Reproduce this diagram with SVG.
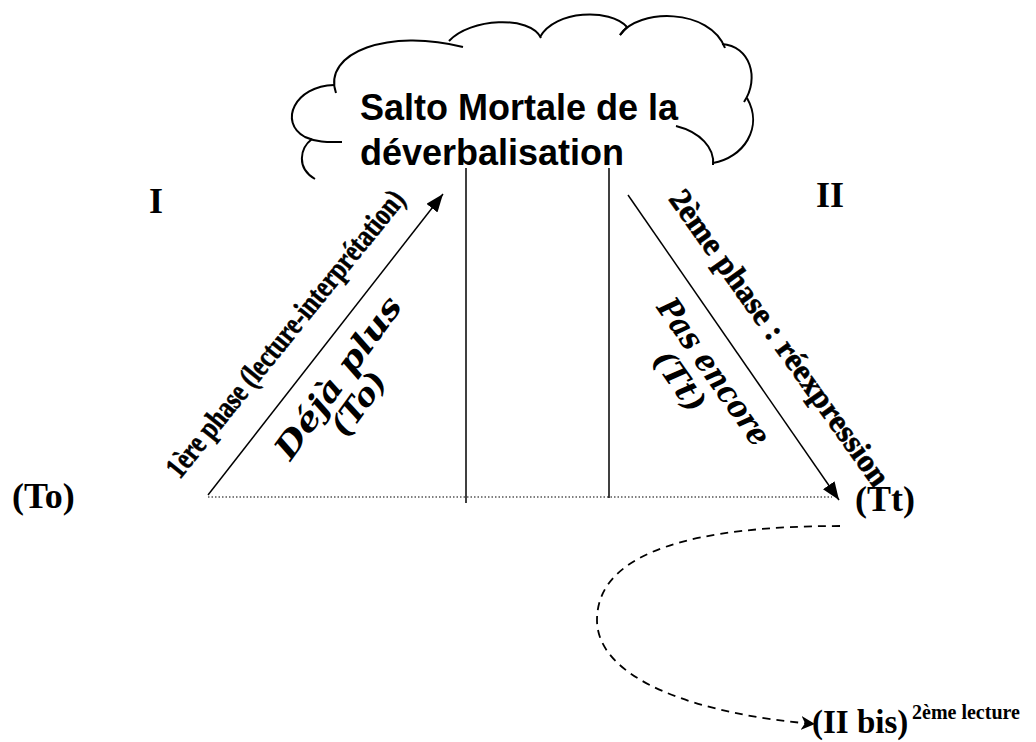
<svg xmlns="http://www.w3.org/2000/svg" width="1036" height="742" viewBox="0 0 1036 742">
<style>
.cl{fill:none;stroke:#000;stroke-width:2}
.ln{fill:none;stroke:#000;stroke-width:1.5}
.tb{font-family:"Liberation Serif",serif;font-weight:bold;fill:#000}
.tw{stroke:#000;stroke-width:0.6}
.ti{font-family:"DejaVu Serif","Liberation Serif",serif;font-weight:bold;font-style:italic;fill:#000}
.ts{font-family:"Liberation Sans",Arial,sans-serif;font-weight:bold;fill:#000;font-size:36px}
</style>
<defs>
<marker id="ah" markerUnits="userSpaceOnUse" markerWidth="20" markerHeight="14" refX="18" refY="7" orient="auto">
<path d="M0,0 L18,7 L0,14 Z" fill="#000"/>
</marker>
<marker id="ahs" markerUnits="userSpaceOnUse" markerWidth="16" markerHeight="14" refX="14" refY="7" orient="auto">
<path d="M0,0 L14,7 L0,14 L4,7 Z" fill="#000"/>
</marker>
</defs>
<rect width="1036" height="742" fill="#fff"/>
<g id="cloud">
<path class="cl" d="M336,93 C322,52 390,28 463,47"/>
<path class="cl" d="M449,41 C470,18 530,15 541,38"/>
<path class="cl" d="M540,37 C555,10 610,8 627,27 L620,35"/>
<path class="cl" d="M620,35 C638,8 710,8 725,48"/>
<path class="cl" d="M722,44 C750,46 760,78 744,102"/>
<path class="cl" d="M713,163 C743,158 764,128 747,98"/>
<path class="cl" d="M676,126 C700,132 715,148 713,165"/>
<path class="cl" d="M334,85 C295,86 278,122 305,137 C318,143 330,142 342,142"/>
<path class="cl" d="M312,139 C300,148 296,168 315,179"/>
<text class="ts" x="360" y="120">Salto Mortale de la</text>
<text class="ts" x="360" y="165">déverbalisation</text>
</g>
<g id="connectors">
<line class="ln" x1="466" y1="168" x2="466" y2="503"/>
<line class="ln" x1="609" y1="168" x2="609" y2="498"/>
<line x1="208" y1="497" x2="832" y2="497" stroke="#000" stroke-width="1.2" stroke-dasharray="1.5 2"/>
<line class="ln" x1="208" y1="495" x2="443" y2="194" marker-end="url(#ah)"/>
<line class="ln" x1="628" y1="195" x2="839" y2="500" marker-end="url(#ah)"/>
<path fill="none" stroke="#000" stroke-width="1.8" stroke-dasharray="8 6" d="M840,526 C700,526 597,550 597,620 C597,680 700,715 815,724" marker-end="url(#ahs)"/>
</g>
<g id="phase1">
<text class="tb tw" font-size="31" text-anchor="middle" textLength="360" lengthAdjust="spacingAndGlyphs" transform="translate(293,340) rotate(-51)">1ère phase (lecture-interprétation)</text>
<text class="ti" font-size="32" text-anchor="middle" textLength="192" lengthAdjust="spacingAndGlyphs" transform="translate(347,384) rotate(-54)">Déjà plus</text>
<text class="ti" font-size="31" text-anchor="middle" textLength="72" lengthAdjust="spacingAndGlyphs" transform="translate(367,410) rotate(-54)">(To)</text>
</g>
<g id="phase2">
<text class="tb tw" font-size="32" text-anchor="middle" textLength="356" lengthAdjust="spacingAndGlyphs" transform="translate(771,344) rotate(54.5)">2ème phase : réexpression</text>
<text class="ti" font-size="32" text-anchor="middle" textLength="172" lengthAdjust="spacingAndGlyphs" transform="translate(705,378) rotate(55)">Pas encore</text>
<text class="ti" font-size="31" text-anchor="middle" textLength="68" lengthAdjust="spacingAndGlyphs" transform="translate(671,387) rotate(55)">(Tt)</text>
</g>
<g id="labels">
<text class="tb" font-size="36" x="149" y="213">I</text>
<text class="tb" font-size="36" x="816" y="207">II</text>
<text class="tb" font-size="36" x="12" y="508">(To)</text>
<text class="tb" font-size="36" x="855" y="511">(Tt)</text>
<text class="tb" font-size="33" x="812" y="733">(II bis)</text>
<text class="tb" font-size="20" x="912" y="719">2ème lecture</text>
</g>
</svg>
